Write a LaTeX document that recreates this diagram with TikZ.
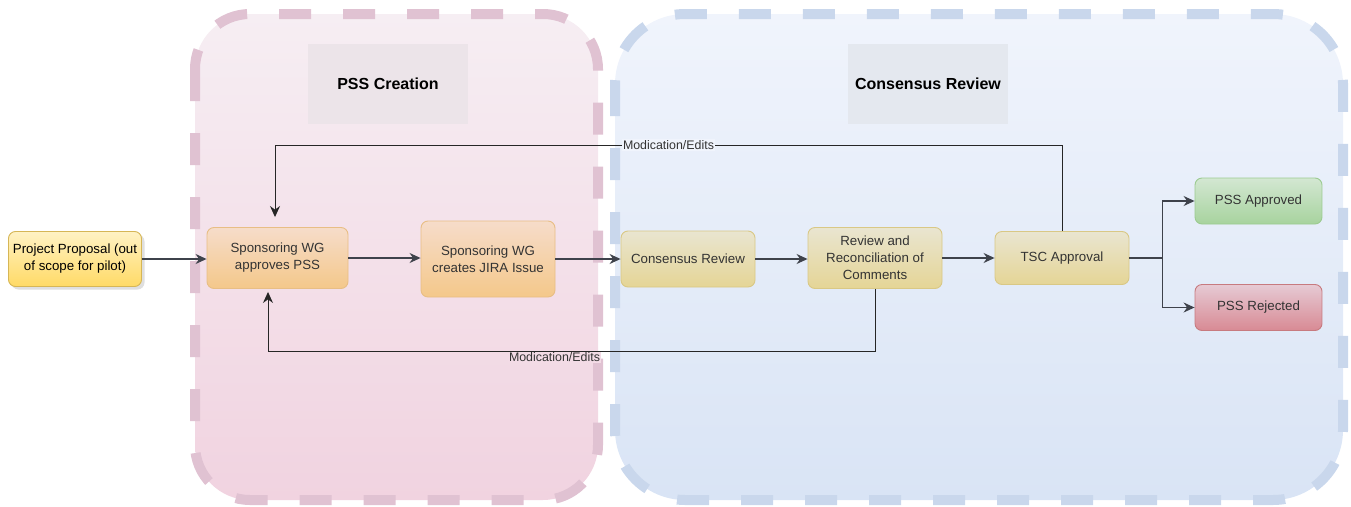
\documentclass[tikz,border=0pt]{standalone}
\usepackage{fontspec}
\setmainfont{Liberation Sans}
\usetikzlibrary{arrows.meta,shadows}

\definecolor{pinkTop}{HTML}{F6EEF3}
\definecolor{pinkBot}{HTML}{F1D3E0}
\definecolor{pinkDash}{HTML}{E0C2D2}
\definecolor{blueTop}{HTML}{F0F4FC}
\definecolor{blueBot}{HTML}{D9E4F5}
\definecolor{blueDash}{HTML}{C9D7EC}
\definecolor{lineGray}{HTML}{3E424B}
\definecolor{txtGray}{HTML}{333333}
\definecolor{orangeTop}{HTML}{F6DCCA}
\definecolor{orangeBot}{HTML}{F4C88A}
\definecolor{orangeLine}{HTML}{E8BE85}
\definecolor{khakiTop}{HTML}{E9E5D0}
\definecolor{khakiBot}{HTML}{E5D596}
\definecolor{khakiLine}{HTML}{D9C885}
\definecolor{goldTop}{HTML}{FFF2C4}
\definecolor{goldBot}{HTML}{FFDA66}
\definecolor{goldLine}{HTML}{D6B656}
\definecolor{greenTop}{HTML}{D3E7D2}
\definecolor{greenBot}{HTML}{A7D39E}
\definecolor{greenLine}{HTML}{9CCB90}
\definecolor{redTop}{HTML}{E6CAD4}
\definecolor{redBot}{HTML}{D88A94}
\definecolor{redLine}{HTML}{C77A7F}

\tikzset{
  laneborder/.style={line width=10pt, dash pattern=on 32pt off 32pt},
  titlebox/.style={minimum width=160pt, minimum height=80pt, font=\fontsize{16}{19}\selectfont\bfseries, text=black},
  stage/.style={rounded corners=7pt, line width=0.9pt, align=center, minimum width=134pt, text=txtGray, font=\fontsize{13.3}{17}\selectfont},
  orangestage/.style={stage, top color=orangeTop, bottom color=orangeBot, draw=orangeLine},
  yellowstage/.style={stage, top color=khakiTop, bottom color=khakiBot, draw=khakiLine},
  flow/.style={draw=lineGray, line width=1.3pt, -{Stealth[length=11pt,width=10pt]}},
  back/.style={draw=black!85, line width=1pt, -{Stealth[length=11pt,width=10pt]}},
  editlabel/.style={font=\fontsize{12.4}{14}\selectfont, text=txtGray, inner sep=1pt}
}

\begin{document}
\begin{tikzpicture}[x=1pt,y=-1pt]
\useasboundingbox (0,0) rectangle (1351,506);

%Shape: Rounded Rect [id:pss]
\path [top color=pinkTop, bottom color=pinkBot, rounded corners=55pt] (195,14) rectangle (598,500);
\draw [laneborder, draw=pinkDash, rounded corners=55pt] (195,14) rectangle (598,500);
%Shape: Rounded Rect [id:consensus]
\path [top color=blueTop, bottom color=blueBot, rounded corners=70pt] (615,14) rectangle (1343,500);
\draw [laneborder, draw=blueDash, rounded corners=70pt] (615,14) rectangle (1343,500);

% Title Nodes
\node [titlebox, fill=black!4!pinkTop] (pssTitle) at (388,84) {PSS Creation};
\node [titlebox, fill=black!5!blueTop] (crTitle) at (928,84) {Consensus Review};

% Stage Nodes
\node [stage, top color=goldTop, bottom color=goldBot, draw=goldLine, minimum width=133pt, minimum height=55pt, text=black, drop shadow={shadow xshift=3pt, shadow yshift=-3pt, opacity=0.25}] (proposal) at (75,259) {Project Proposal (out\\of scope for pilot)};
\node [orangestage, minimum width=141pt, minimum height=61pt] (approves) at (277.5,258) {Sponsoring WG\\approves PSS};
\node [orangestage, minimum height=76pt] (jira) at (488,259) {Sponsoring WG\\creates JIRA Issue};
\node [yellowstage, minimum height=56pt] (review) at (688,259) {Consensus Review};
\node [yellowstage, minimum height=61pt] (reconcile) at (875,258) {Review and\\Reconciliation of\\Comments};
\node [yellowstage, minimum height=53pt] (tsc) at (1062,258) {TSC Approval};
\node [stage, minimum width=127pt, minimum height=46pt, top color=greenTop, bottom color=greenBot, draw=greenLine] (approved) at (1258.5,201) {PSS Approved};
\node [stage, minimum width=127pt, minimum height=46pt, top color=redTop, bottom color=redBot, draw=redLine] (rejected) at (1258.5,307.5) {PSS Rejected};

% Connectors
\draw [flow] (proposal) -- (proposal -| approves.west);
\draw [flow] (approves) -- (approves -| jira.west);
\draw [flow] (jira) -- (jira -| review.west);
\draw [flow] (review) -- (review -| reconcile.west);
\draw [flow] (reconcile) -- (reconcile -| tsc.west);
\draw [flow] (tsc.east) -- ++(33,0) |- (approved.west);
\draw [flow] (tsc.east) -- ++(33,0) |- (rejected.west);

% Feedback
\draw [back, shorten >=10pt] (tsc.north) -- ++(0,-86) -| node [pos=0.25, editlabel, fill=blueTop] {Modication/Edits} ([xshift=-2.5pt]approves.north);
\draw [back, shorten >=3pt] (reconcile.south) -- ++(0,62.5) -| node [pos=0.264, editlabel, fill=pinkBot!70!pinkTop, yshift=-6pt] {Modication/Edits} ([xshift=-9.5pt]approves.south);
\end{tikzpicture}
\end{document}
